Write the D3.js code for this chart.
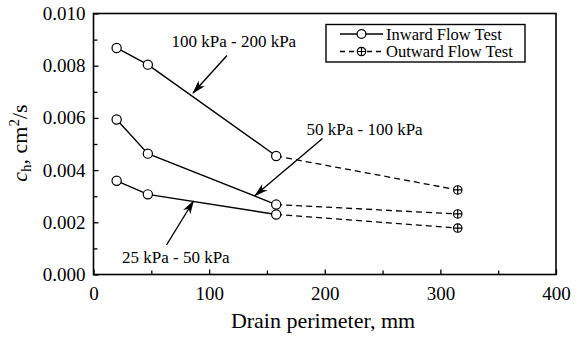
<!DOCTYPE html>
<html>
<head>
<meta charset="utf-8">
<script src="https://cdn.jsdelivr.net/npm/d3@7"></script>
<style>
  html, body { margin: 0; padding: 0; background: #fff; }
  svg text { font-family: "Liberation Serif", "Times New Roman", Times, "DejaVu Serif", serif !important; }
</style>
</head>
<body>
<svg id="chart" width="577" height="337"></svg>
<script>
// Drain perimeter (mm) for the inward flow tests and the outward flow test
const inwardPerimeter = [20, 47, 158];
const outwardPerimeter = 315;

// Coefficient of horizontal consolidation c_h (cm²/s) per load increment
const loadSteps = ["100 kPa - 200 kPa", "50 kPa - 100 kPa", "25 kPa - 50 kPa"];
const inwardCh = [
  [0.00868, 0.00804, 0.00454],
  [0.00594, 0.00463, 0.00268],
  [0.00359, 0.00307, 0.00230]
];
const outwardCh = [0.00324, 0.00232, 0.00178];

const xTicks = [0, 100, 200, 300, 400];
const yTicks = [0.000, 0.002, 0.004, 0.006, 0.008, 0.010];

const svg = d3.select("#chart");
const plot = { left: 93.5, right: 556, top: 13.5, bottom: 274.5 };

const x = d3.scaleLinear().domain([0, 400]).range([plot.left, plot.right]);
const y = d3.scaleLinear().domain([0, 0.010]).range([plot.bottom, plot.top]);

// Minor ticks (inside, no labels)
const xMinor = d3.range(50, 400, 100);
const yMinor = d3.range(0.001, 0.010, 0.002);

const xAxis = svg.append("g").attr("transform", `translate(0,${plot.bottom})`)
  .call(d3.axisBottom(x).tickValues(xTicks).tickSize(-5).tickPadding(12).tickFormat(d3.format("d")));
const yAxis = svg.append("g").attr("transform", `translate(${plot.left},0)`)
  .call(d3.axisLeft(y).tickValues(yTicks).tickSize(-5).tickPadding(8).tickFormat(d3.format(".3f")));
svg.append("g").attr("transform", `translate(0,${plot.bottom})`)
  .call(d3.axisBottom(x).tickValues(xMinor).tickSize(-4).tickFormat(""))
  .select(".domain").remove();
svg.append("g").attr("transform", `translate(${plot.left},0)`)
  .call(d3.axisLeft(y).tickValues(yMinor).tickSize(-4).tickFormat(""))
  .select(".domain").remove();

svg.selectAll(".tick line").attr("stroke", "#000").attr("stroke-width", 1.3);
svg.selectAll(".domain").remove();
svg.selectAll(".tick text")
  .attr("font-size", 19)
  .attr("fill", "#000");
xAxis.selectAll(".tick text").attr("dy", "0.71em");

// Plot frame
svg.append("rect")
  .attr("x", plot.left).attr("y", plot.top)
  .attr("width", plot.right - plot.left).attr("height", plot.bottom - plot.top)
  .attr("fill", "none").attr("stroke", "#000").attr("stroke-width", 1.6);

const line = d3.line().x(d => x(d[0])).y(d => y(d[1]));

// Dashed links to the outward flow test
inwardCh.forEach((vals, i) => {
  const last = inwardPerimeter.length - 1;
  svg.append("path")
    .attr("d", line([[inwardPerimeter[last], vals[last]], [outwardPerimeter, outwardCh[i]]]))
    .attr("fill", "none").attr("stroke", "#000").attr("stroke-width", 1.3)
    .attr("stroke-dasharray", "6,4");
});

// Inward flow series
inwardCh.forEach(vals => {
  const pts = inwardPerimeter.map((p, j) => [p, vals[j]]);
  svg.append("path").attr("d", line(pts))
    .attr("fill", "none").attr("stroke", "#000").attr("stroke-width", 1.4);
  svg.selectAll(null).data(pts).enter().append("circle")
    .attr("cx", d => x(d[0])).attr("cy", d => y(d[1])).attr("r", 4.6)
    .attr("fill", "#fff").attr("stroke", "#000").attr("stroke-width", 1.2);
});

// Circle-with-cross marker
function crossCircle(g, cx, cy, r) {
  g.append("circle").attr("cx", cx).attr("cy", cy).attr("r", r)
    .attr("fill", "#fff").attr("stroke", "#000").attr("stroke-width", 1.2);
  g.append("path")
    .attr("d", `M${cx - r},${cy}H${cx + r}M${cx},${cy - r}V${cy + r}`)
    .attr("stroke", "#000").attr("stroke-width", 1.2);
}
outwardCh.forEach(v => crossCircle(svg, x(outwardPerimeter), y(v), 4.2));

// Arrowhead marker
svg.append("defs").append("marker")
  .attr("id", "arrow").attr("viewBox", "0 0 14 10")
  .attr("refX", 13).attr("refY", 5)
  .attr("markerWidth", 14).attr("markerHeight", 10)
  .attr("markerUnits", "userSpaceOnUse").attr("orient", "auto")
  .append("path").attr("d", "M0,0.8 L14,5 L0,9.2 L4,5 Z").attr("fill", "#000");

// Load-step annotations
const annotations = [
  { label: loadSteps[0], tx: 171.5, ty: 47, from: [227, 55.5], to: [193, 93] },
  { label: loadSteps[1], tx: 306.5, ty: 135, from: [322.5, 138.5], to: [255, 195.5] },
  { label: loadSteps[2], tx: 122, ty: 263, from: [166.5, 245], to: [193.5, 201] }
];
annotations.forEach(a => {
  svg.append("text").attr("x", a.tx).attr("y", a.ty)
    .attr("font-size", 17).attr("fill", "#000").text(a.label);
  svg.append("line")
    .attr("x1", a.from[0]).attr("y1", a.from[1]).attr("x2", a.to[0]).attr("y2", a.to[1])
    .attr("stroke", "#000").attr("stroke-width", 1.4).attr("marker-end", "url(#arrow)");
});

// Legend
const legend = svg.append("g");
legend.append("rect").attr("x", 326).attr("y", 24.5).attr("width", 199).attr("height", 37.5)
  .attr("fill", "#fff").attr("stroke", "#000").attr("stroke-width", 1.4);
legend.append("line").attr("x1", 340).attr("x2", 383).attr("y1", 34).attr("y2", 34)
  .attr("stroke", "#000").attr("stroke-width", 1.4);
legend.append("circle").attr("cx", 361.5).attr("cy", 34).attr("r", 4.4)
  .attr("fill", "#fff").attr("stroke", "#000").attr("stroke-width", 1.2);
legend.append("line").attr("x1", 340).attr("x2", 383).attr("y1", 51.5).attr("y2", 51.5)
  .attr("stroke", "#000").attr("stroke-width", 1.3).attr("stroke-dasharray", "5,4");
crossCircle(legend, 361.5, 51.5, 4.2);
legend.append("text").attr("x", 386).attr("y", 39.5).attr("font-size", 16.5).text("Inward Flow Test");
legend.append("text").attr("x", 386).attr("y", 57).attr("font-size", 16.5).text("Outward Flow Test");

// Axis titles
svg.append("text").attr("x", 323).attr("y", 328).attr("text-anchor", "middle")
  .attr("font-size", 22).text("Drain perimeter, mm");

const yTitle = svg.append("text")
  .attr("transform", "translate(27,143) rotate(-90)")
  .attr("text-anchor", "middle").attr("font-size", 22);
yTitle.append("tspan").attr("font-style", "italic").text("c");
yTitle.append("tspan").attr("font-size", 15).attr("dy", 4).text("h");
yTitle.append("tspan").attr("dy", -4).text(", cm");
yTitle.append("tspan").attr("font-size", 15).attr("dy", -8).text("2");
yTitle.append("tspan").attr("dy", 8).text("/s");
</script>
</body>
</html>
